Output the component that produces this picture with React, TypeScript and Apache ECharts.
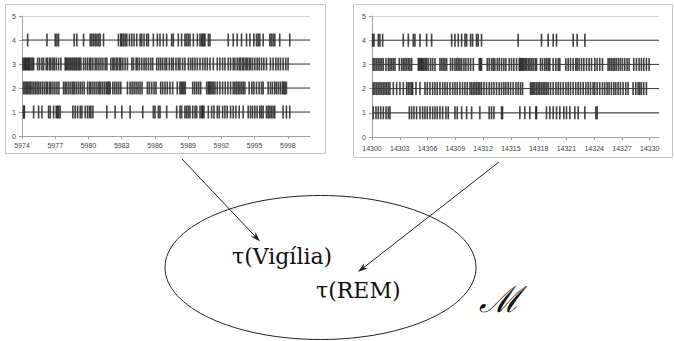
import React, { useEffect, useRef } from "react";
import * as echarts from "echarts";

// ---- data: event times (seconds after window start), one array per row ----
const leftStart = 5974;
const rightStart = 14300;
const leftTickLabels = ["5974", "5977", "5980", "5983", "5986", "5989", "5992", "5995", "5998"];
const rightTickLabels = ["14300", "14303", "14306", "14309", "14312", "14315", "14318", "14321", "14324", "14327", "14330"];
const yTickLabels = ["0", "1", "2", "3", "4", "5"];

const leftRow4 = [0.51, 2.25, 3.0, 3.15, 3.3, 4.71, 4.95, 5.56, 6.16, 6.31, 6.46, 6.61, 6.76, 6.91, 7.06, 7.36, 8.71, 8.92, 9.01, 9.16, 9.31, 9.46, 9.7, 9.91, 10.12, 10.36, 10.66, 10.81, 11.02, 11.26, 11.41, 11.86, 12.22, 12.46, 12.76, 13.06, 13.51, 13.66, 14.11, 14.41, 14.71, 14.86, 15.02, 15.17, 15.47, 15.83, 16.07, 16.22, 16.31, 16.43, 16.52, 16.82, 16.97, 18.62, 19.07, 19.43, 19.82, 20.27, 20.57, 20.93, 21.17, 21.32, 21.47, 21.77, 22.37, 22.52, 22.67, 22.82, 23.27, 24.17];
const leftRow3 = [0.09, 0.21, 0.3, 0.39, 0.51, 0.6, 0.69, 0.81, 0.93, 1.05, 1.41, 1.59, 1.8, 1.95, 2.19, 2.31, 2.49, 2.61, 2.79, 2.91, 3.09, 3.3, 3.51, 3.9, 3.99, 4.11, 4.23, 4.35, 4.47, 4.59, 4.71, 4.83, 4.95, 5.08, 5.2, 5.32, 5.56, 5.74, 5.92, 6.1, 6.22, 6.4, 6.61, 6.76, 6.94, 7.12, 7.3, 7.51, 7.66, 8.02, 8.2, 8.32, 8.5, 8.62, 8.8, 8.92, 9.1, 9.31, 9.52, 9.91, 10.06, 10.3, 10.42, 10.6, 10.81, 11.02, 11.2, 11.41, 11.62, 11.8, 12.16, 12.34, 12.52, 12.7, 12.91, 13.06, 13.3, 13.51, 13.66, 13.9, 14.11, 14.26, 14.5, 14.71, 15.02, 15.23, 15.41, 15.62, 15.83, 16.07, 16.31, 16.52, 16.73, 16.97, 17.27, 17.63, 17.87, 18.11, 18.32, 18.62, 18.83, 19.07, 19.22, 19.43, 19.61, 19.73, 19.91, 20.03, 20.21, 20.33, 20.51, 20.63, 20.81, 21.02, 21.23, 21.41, 21.62, 21.83, 22.07, 22.43, 22.67, 22.91, 23.12, 23.33, 23.57, 23.81, 24.02];
const leftRow2 = [0.15, 0.27, 0.39, 0.51, 0.63, 0.75, 0.9, 1.05, 1.2, 1.35, 1.5, 1.65, 1.83, 2.01, 2.19, 2.31, 2.49, 2.61, 2.79, 2.97, 3.15, 3.33, 3.75, 3.9, 4.05, 4.23, 4.41, 4.59, 4.71, 4.89, 5.08, 5.26, 5.44, 5.62, 5.92, 6.1, 6.22, 6.4, 6.58, 6.76, 6.94, 7.06, 7.24, 7.42, 7.6, 7.72, 7.84, 7.96, 8.2, 8.38, 8.56, 8.74, 8.92, 9.52, 9.76, 9.94, 10.12, 10.3, 10.48, 10.66, 10.84, 11.32, 11.5, 11.71, 11.92, 12.1, 12.52, 12.7, 12.91, 13.12, 13.36, 13.6, 14.02, 14.26, 14.38, 14.5, 14.62, 14.74, 15.41, 15.59, 15.77, 15.95, 16.13, 16.67, 16.82, 16.91, 17.03, 17.15, 17.27, 17.42, 17.63, 17.87, 18.11, 18.35, 18.59, 18.83, 19.07, 19.22, 19.37, 19.52, 19.67, 19.82, 19.97, 20.12, 20.51, 20.75, 20.93, 21.17, 21.41, 21.62, 21.77, 22.22, 22.43, 22.61, 22.82, 22.97, 23.15, 23.33, 23.51, 23.63, 23.75, 23.87];
const leftRow1 = [0.15, 0.21, 1.05, 1.5, 1.8, 2.4, 2.55, 2.85, 3.09, 3.21, 3.3, 3.45, 4.59, 4.8, 5.02, 5.26, 5.41, 5.71, 5.92, 6.1, 6.22, 6.4, 7.66, 8.41, 9.01, 9.76, 10.9, 11.86, 12.01, 12.31, 12.46, 13.06, 13.96, 14.26, 14.41, 14.71, 14.86, 15.02, 15.17, 15.41, 15.62, 15.77, 16.07, 16.22, 16.31, 16.43, 16.82, 17.12, 17.33, 17.63, 17.81, 18.11, 18.32, 18.53, 18.83, 19.07, 19.31, 19.61, 19.97, 20.42, 20.63, 20.81, 21.02, 21.23, 21.47, 21.62, 21.77, 22.07, 22.22, 22.37, 22.52, 22.67, 22.82, 23.57, 23.87, 24.17];

const rightRow4 = [0.07, 0.22, 0.68, 0.86, 1.15, 3.38, 3.92, 4.46, 4.64, 5.18, 5.9, 6.44, 8.6, 8.96, 9.32, 9.68, 10.04, 10.22, 10.65, 10.86, 11.29, 11.47, 11.83, 15.79, 18.31, 19.03, 19.57, 19.93, 21.73, 22.16, 22.99];
const rightRow3 = [0.14, 0.32, 0.5, 0.68, 0.86, 1.04, 1.22, 1.51, 1.76, 1.94, 2.12, 2.3, 2.48, 2.95, 3.2, 3.38, 3.56, 3.74, 3.92, 4.1, 4.28, 5.0, 5.11, 5.25, 5.36, 5.47, 5.61, 5.76, 5.9, 6.08, 6.33, 6.55, 6.8, 7.34, 7.52, 7.7, 7.88, 8.06, 8.49, 8.71, 8.96, 9.14, 9.32, 9.5, 9.68, 9.93, 10.14, 10.4, 10.65, 10.94, 11.58, 11.73, 11.83, 12.45, 12.66, 12.91, 13.09, 13.27, 13.53, 13.74, 13.99, 14.24, 14.46, 14.82, 15.07, 15.32, 15.61, 15.9, 16.04, 16.15, 16.26, 16.4, 16.55, 16.69, 16.87, 17.05, 17.23, 17.41, 17.63, 17.77, 18.2, 18.42, 18.67, 18.85, 19.03, 19.21, 19.57, 19.86, 20.11, 20.29, 20.94, 21.19, 21.44, 21.73, 22.01, 22.16, 22.37, 22.63, 22.88, 23.17, 23.45, 23.71, 24.07, 24.32, 24.6, 24.89, 25.5, 25.68, 25.86, 26.04, 26.22, 26.4, 26.62, 26.83, 27.05, 27.3, 27.55, 27.77, 28.27, 28.56, 28.85, 29.1, 29.35, 29.64, 29.93];
const rightRow2 = [0.14, 0.32, 0.5, 0.68, 0.86, 1.04, 1.22, 1.4, 1.58, 1.76, 1.94, 2.3, 2.66, 3.02, 3.38, 3.74, 3.92, 4.1, 4.28, 4.39, 4.75, 5.18, 5.72, 5.97, 6.26, 6.55, 6.8, 7.05, 7.34, 7.63, 7.88, 8.13, 8.42, 8.71, 8.96, 9.21, 9.5, 9.78, 10.04, 10.29, 10.58, 10.76, 10.94, 11.12, 11.29, 11.47, 11.65, 11.83, 12.09, 12.37, 12.66, 12.91, 13.17, 13.45, 13.74, 13.99, 14.24, 14.46, 14.71, 14.96, 15.25, 15.54, 15.79, 16.04, 16.26, 17.12, 17.27, 17.41, 17.59, 17.77, 17.95, 18.13, 18.31, 18.49, 18.67, 18.85, 19.03, 19.28, 19.57, 19.86, 20.11, 20.36, 20.65, 20.94, 21.19, 21.44, 21.73, 22.01, 22.27, 22.52, 22.81, 23.09, 23.35, 23.6, 23.88, 24.06, 24.32, 24.6, 24.89, 25.14, 25.4, 25.61, 25.86, 26.12, 26.33, 26.58, 26.83, 27.12, 27.41, 27.66, 28.2, 28.49, 28.74, 28.92, 29.1, 29.35, 29.64];
const rightRow1 = [0.14, 0.43, 0.68, 0.94, 1.22, 1.51, 1.76, 1.94, 4.03, 4.28, 4.53, 4.82, 5.18, 5.47, 5.72, 5.97, 6.26, 6.55, 6.8, 7.05, 7.34, 7.63, 7.99, 8.24, 8.96, 9.21, 9.68, 10.22, 10.76, 11.65, 12.66, 12.91, 13.17, 13.99, 14.1, 15.97, 16.51, 17.05, 17.7, 17.77, 18.85, 19.21, 19.57, 19.93, 20.29, 20.72, 21.01, 21.37, 21.91, 22.27, 22.99, 24.17, 24.32];

const leftRows = [leftRow1, leftRow2, leftRow3, leftRow4];
const rightRows = [rightRow1, rightRow2, rightRow3, rightRow4];
const leftWindow = 26;   // seconds shown
const rightWindow = 31;

const labelStyle = { fontFamily: "Liberation Sans", fontSize: 7, color: "#444" };

function ticksFor(labels: string[], start: number) {
  return labels.map((l) => Number(l) - start);
}

function arrow(x1: number, y1: number, x2: number, y2: number) {
  const dx = x2 - x1, dy = y2 - y1;
  const len = Math.sqrt(dx * dx + dy * dy);
  const ux = dx / len, uy = dy / len;
  const L = 10, W = 3.2;
  const bx = x2 - ux * L, by = y2 - uy * L;
  return [
    { type: "line", shape: { x1, y1, x2: x2 - ux * 4, y2: y2 - uy * 4 }, style: { stroke: "#222", lineWidth: 1 } },
    {
      type: "polygon",
      shape: { points: [[x2, y2], [bx - uy * W, by + ux * W], [x2 - ux * 7, y2 - uy * 7], [bx + uy * W, by - ux * W]] },
      style: { fill: "#222" },
    },
  ];
}

export default function App() {
  const ref = useRef<HTMLDivElement>(null);
  useEffect(() => {
    if (!ref.current) return;
    const chart = echarts.init(ref.current, null, { renderer: "svg" });
    const xAxisFor = (gi: number, max: number, labels: string[], start: number, margin: number) => ({
      type: "value",
      gridIndex: gi,
      min: 0,
      max,
      axisLine: { show: true, lineStyle: { color: "#a0a0a0", width: 1 } },
      axisTick: { show: true, length: 3, lineStyle: { color: "#a0a0a0" }, customValues: ticksFor(labels, start) },
      axisLabel: {
        ...labelStyle,
        margin,
        customValues: ticksFor(labels, start),
        formatter: (v: number) => String(Math.round(v + start)),
      },
      splitLine: { show: false },
    });
    const yAxisFor = (gi: number) => ({
      type: "value",
      gridIndex: gi,
      min: 0,
      max: 5,
      interval: 1,
      axisLine: { show: true, lineStyle: { color: "#a0a0a0", width: 1 } },
      axisTick: { show: true, length: 3, lineStyle: { color: "#a0a0a0" } },
      axisLabel: { ...labelStyle, margin: 6, formatter: (v: number) => yTickLabels[v] ?? "" },
      splitLine: { show: true, lineStyle: { color: "#d4d4d4", width: 1 } },
    });
    const series: any[] = [];
    const addPanel = (idx: number, rows: number[][], lineEnd: number) => {
      rows.forEach((events, i) => {
        const level = i + 1;
        series.push({
          type: "line",
          xAxisIndex: idx,
          yAxisIndex: idx,
          data: [[0, level], [lineEnd, level]],
          symbol: "none",
          lineStyle: { color: "#3a3a3a", width: 1 },
          silent: true,
        });
        series.push({
          type: "scatter",
          xAxisIndex: idx,
          yAxisIndex: idx,
          data: events.map((t) => [t, level]),
          symbol: "rect",
          symbolSize: [1.6, 13],
          itemStyle: { color: "#111" },
          silent: true,
        });
      });
    };
    addPanel(0, leftRows, leftWindow);
    addPanel(1, rightRows, rightWindow);

    const graphic: any[] = [
      { type: "rect", shape: { x: 5.5, y: 4.5, width: 320, height: 149 }, style: { fill: "none", stroke: "#c4c4c4", lineWidth: 1 }, z: -1 },
      { type: "rect", shape: { x: 353.5, y: 4.5, width: 319, height: 153 }, style: { fill: "none", stroke: "#c4c4c4", lineWidth: 1 }, z: -1 },
      { type: "ellipse", shape: { cx: 320.5, cy: 267.5, rx: 155.5, ry: 72 }, style: { fill: "none", stroke: "#222", lineWidth: 1 } },
      ...arrow(182, 159, 260, 241.5),
      ...arrow(499, 162, 358, 272),
      { type: "text", x: 232, y: 256, style: { text: "τ(Vigília)", font: "22px 'DejaVu Serif'", fill: "#111", verticalAlign: "middle", align: "left" } },
      { type: "text", x: 316, y: 290, style: { text: "τ(REM)", font: "22px 'DejaVu Serif'", fill: "#111", verticalAlign: "middle", align: "left" } },
      { type: "text", x: 479, y: 299, style: { text: "ℳ", font: "italic 36px 'DejaVu Serif'", fill: "#111", verticalAlign: "middle", align: "left" } },
    ];

    chart.setOption({
      animation: false,
      backgroundColor: "#ffffff",
      grid: [
        { left: 22, top: 16, width: 288, height: 120 },
        { left: 372, top: 16, width: 287, height: 121 },
      ],
      xAxis: [
        xAxisFor(0, leftWindow, leftTickLabels, leftStart, 6),
        xAxisFor(1, rightWindow, rightTickLabels, rightStart, 8),
      ],
      yAxis: [yAxisFor(0), yAxisFor(1)],
      series,
      graphic,
    });
    return () => chart.dispose();
  }, []);
  return (
    <div
      ref={ref}
      style={{ position: "absolute", left: 0, top: 0, width: 674, height: 341, background: "#fff" }}
    />
  );
}
